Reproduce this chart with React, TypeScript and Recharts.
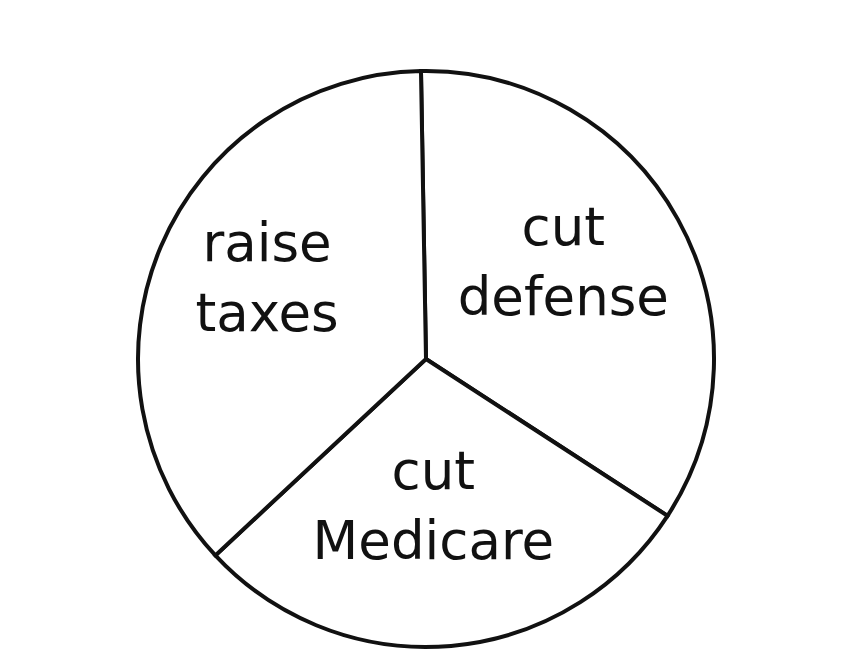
import React from "react";
import { PieChart, Pie, Cell } from "recharts";

const categories = ["cut defense", "cut Medicare", "raise taxes"];
const values = [124, 104, 132];
const labelLines = [["cut", "defense"], ["cut", "Medicare"], ["raise", "taxes"]];

const data = categories.map((name, i) => ({ name, value: values[i], lines: labelLines[i] }));

const RAD = Math.PI / 180;

const renderLabel = (props: any) => {
  const { cx, cy, midAngle, index } = props;
  const r = 165;
  const x = cx + r * Math.cos(-midAngle * RAD) - 7;
  const y = cy + r * Math.sin(-midAngle * RAD) - 14;
  const lines = data[index].lines;
  return (
    <text
      x={x}
      y={y}
      textAnchor="middle"
      fill="#111"
      fontFamily="'DejaVu Sans', sans-serif"
      fontSize={53}
    >
      <tspan x={x} dy={-20}>{lines[0]}</tspan>
      <tspan x={x} dy={70}>{lines[1]}</tspan>
    </text>
  );
};

export default function App() {
  return (
    <div style={{ position: "absolute", left: 0, top: 0, width: 842, height: 668, background: "#fff" }}>
      <PieChart width={842} height={668} margin={{ top: 0, right: 0, bottom: 0, left: 0 }}>
        <Pie
          data={data}
          dataKey="value"
          nameKey="name"
          cx={426}
          cy={359}
          outerRadius={288}
          startAngle={91}
          endAngle={-269}
          stroke="#111"
          strokeWidth={4}
          label={renderLabel}
          labelLine={false}
          isAnimationActive={false}
        >
          {data.map((d, i) => (
            <Cell key={i} fill="#fff" stroke="#111" strokeWidth={4} />
          ))}
        </Pie>
      </PieChart>
    </div>
  );
}
